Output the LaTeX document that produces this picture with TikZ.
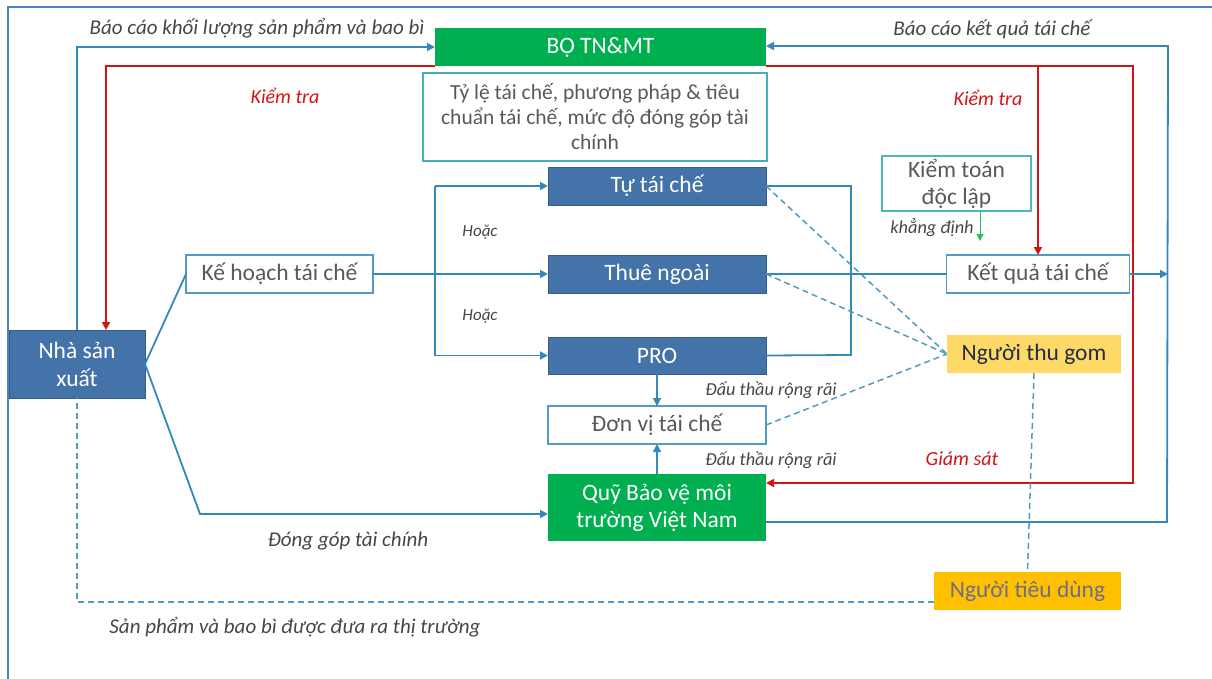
\documentclass[tikz,border=0pt]{standalone}
\usepackage{fontspec}
\setmainfont{Carlito}
\usetikzlibrary{arrows.meta}
\definecolor{frameblue}{RGB}{79,129,189}
\definecolor{connblue}{RGB}{52,136,186}
\definecolor{boxblue}{RGB}{67,115,168}
\definecolor{boxgreen}{RGB}{0,176,80}
\definecolor{redline}{RGB}{210,20,20}
\definecolor{txtgray}{RGB}{89,89,89}
\definecolor{lblgray}{RGB}{70,70,70}
\definecolor{tealb}{RGB}{75,185,185}
\definecolor{lightyel}{RGB}{255,217,102}
\definecolor{yel}{RGB}{255,192,0}
\definecolor{kdgreen}{RGB}{40,190,90}
\tikzset{
  every node/.style={inner sep=0pt, outer sep=0pt},
  bluebox/.style={draw=boxblue!80!black, line width=0.6pt, fill=boxblue, text=white, font=\fontsize{23.5}{27}\selectfont, align=center},
  greenbox/.style={fill=boxgreen, text=white, font=\fontsize{23.5}{27}\selectfont, align=center},
  whitebox/.style={draw=connblue!85, line width=1.6pt, fill=white, text=txtgray, font=\fontsize{23.5}{27}\selectfont, align=center},
  lbl/.style={text=lblgray, font=\fontsize{21}{24}\selectfont\itshape},
  smlbl/.style={text=lblgray, font=\fontsize{18.3}{21}\selectfont\itshape},
  redlbl/.style={text=redline, font=\fontsize{20}{24}\selectfont\itshape},
  conn/.style={draw=connblue, line width=1.8pt},
  arr/.style={-{Triangle[length=8pt,width=8pt]}},
  redconn/.style={draw=redline, line width=1.8pt},
  dashconn/.style={draw=connblue!85, line width=1.5pt, dash pattern=on 6pt off 4pt},
}
\begin{document}
\begin{tikzpicture}[x=1pt,y=-1pt]
\useasboundingbox (0,0) rectangle (1212,679);
% frame
\draw[frameblue, line width=2.5pt] (1212,7) -- (8,7) -- (8,679);

% nodes
\node[greenbox, minimum width=331pt, minimum height=38pt] (bo) at (600.5,47) {BỘ TN\&MT};
\node[whitebox, draw=tealb!80!connblue, minimum width=344pt, minimum height=88pt, font=\fontsize{21.5}{25}\selectfont] (tl) at (595,117) {Tỷ lệ tái chế, phương pháp \& tiêu\\chuẩn tái chế, mức độ đóng góp tài\\chính};
\node[bluebox, minimum width=218pt, minimum height=38pt] (tu) at (657,186) {Tự tái chế};
\node[bluebox, minimum width=218pt, minimum height=38pt] (tn) at (657,274) {Thuê ngoài};
\node[bluebox, minimum width=218pt, minimum height=37pt] (pro) at (657,355.5) {PRO};
\node[whitebox, minimum width=218pt, minimum height=38pt] (dv) at (657,425) {Đơn vị tái chế};
\node[greenbox, minimum width=218pt, minimum height=67pt] (quy) at (657,507.5) {Quỹ Bảo vệ môi\\trường Việt Nam};
\node[whitebox, minimum width=187pt, minimum height=38pt] (kh) at (279.5,274) {Kế hoạch tái chế};
\node[bluebox, minimum width=136pt, minimum height=68pt, font=\fontsize{23.5}{28}\selectfont] (nsx) at (77,364) {Nhà sản\\xuất};
\node[whitebox, draw=tealb, minimum width=149pt, minimum height=55pt] (kt) at (956.5,183.5) {Kiểm toán\\độc lập};
\node[whitebox, minimum width=183pt, minimum height=38pt] (kq) at (1038,274) {Kết quả tái chế};
\node[fill=lightyel, text={rgb,255:red,35;green,45;blue,70}, font=\fontsize{23.5}{27}\selectfont, minimum width=174pt, minimum height=38pt] (ntg) at (1034,354) {Người thu gom};
\node[fill=yel, text={rgb,255:red,110;green,110;blue,135}, font=\fontsize{23.5}{27}\selectfont, minimum width=187pt, minimum height=38pt] (ntd) at (1027.5,591) {Người tiêu dùng};

% coordinates
\coordinate (split) at (435,274);
\coordinate (rbr) at (851,186);
\coordinate (rbr2) at (851,355);
\coordinate (rtop) at (1168,46);
\coordinate (rbot) at (1167,522);
\coordinate (redr) at (1133,66);
\coordinate (redb) at (1133,483);
\coordinate (kd) at (980,241);
\coordinate (bend) at (200,514);

% blue top-left report
\draw[conn, arr] (nsx.north) |- (bo.west);
% red kiem tra left
\draw[redconn, arr] (bo.south west) -| ([xshift=29pt]nsx.north);
% red right
\draw[redconn, arr] (bo.south east) -- (redr) -- (redb) -- (redb -| quy.east);
\draw[redconn, arr] (kq.north |- bo.south) -- (kq.north);
% right blue loop
\draw[conn, arr] ([yshift=-14.5pt]quy.east) -- (rbot) -- (rtop) -- (bo.east |- rtop);
\draw[conn, arr] (kq.east) -- (kq.east -| rtop);
% ke hoach split
\draw[conn, arr] (kh.east) -- (tn.west);
\draw[conn] (split |- tu.west) -- (split |- pro.west);
\draw[conn, arr] (split |- tu.west) -- (tu.west);
\draw[conn, arr] (split |- pro.west) -- (pro.west);
% right bracket
\draw[conn] (tu.east) -- (rbr) -- (rbr2) -- (pro.east);
\draw[conn] (tn.east) -- (kq.west);
% dashed to nguoi thu gom
\draw[dashconn] (tu.east) -- (ntg.west);
\draw[dashconn] (tn.east) -- (ntg.west);
\draw[dashconn] (dv.east) -- (ntg.west);
\draw[dashconn] (ntg.south) -- (ntd.north);
\draw[dashconn] ([yshift=-11pt]ntd.west) -| (nsx.south);
% kiem toan
\draw[draw=kdgreen, line width=1pt, -{Triangle[length=7pt,width=7pt]}] (kt.south -| kd) -- (kd);
% producer links
\draw[conn] (nsx.east) -- (kh.west);
\draw[conn, arr] (nsx.east) -- (bend) -- (bend -| quy.west);
% PRO / Quy to don vi
\draw[conn, line width=1.2pt, arr] (pro.south) -- (dv.north);
\draw[conn, line width=1.2pt, arr] (quy.north) -- (dv.south);

% labels
\node[lbl] (l1) at (257,28) {Báo cáo khối lượng sản phẩm và bao bì};
\node[redlbl] (l2) at (285,96) {Kiểm tra};
\node[lbl] (l3) at (992,29) {Báo cáo kết quả tái chế};
\node[redlbl] (l4) at (988,98) {Kiểm tra};
\node[redlbl] (l5) at (962,459) {Giám sát};
\node[smlbl, font=\fontsize{17}{20}\selectfont\itshape] (l6) at (480,232) {Hoặc};
\node[smlbl, font=\fontsize{17}{20}\selectfont\itshape] (l7) at (480,316) {Hoặc};
\node[smlbl] (l8) at (932,228) {khẳng định};
\node[smlbl] (l9) at (771,390) {Đấu thầu rộng rãi};
\node[smlbl] (l10) at (771,460) {Đấu thầu rộng rãi};
\node[lbl] (l11) at (348,541) {Đóng góp tài chính};
\node[lbl] (l12) at (295,627) {Sản phẩm và bao bì được đưa ra thị trường};
\end{tikzpicture}
\end{document}
